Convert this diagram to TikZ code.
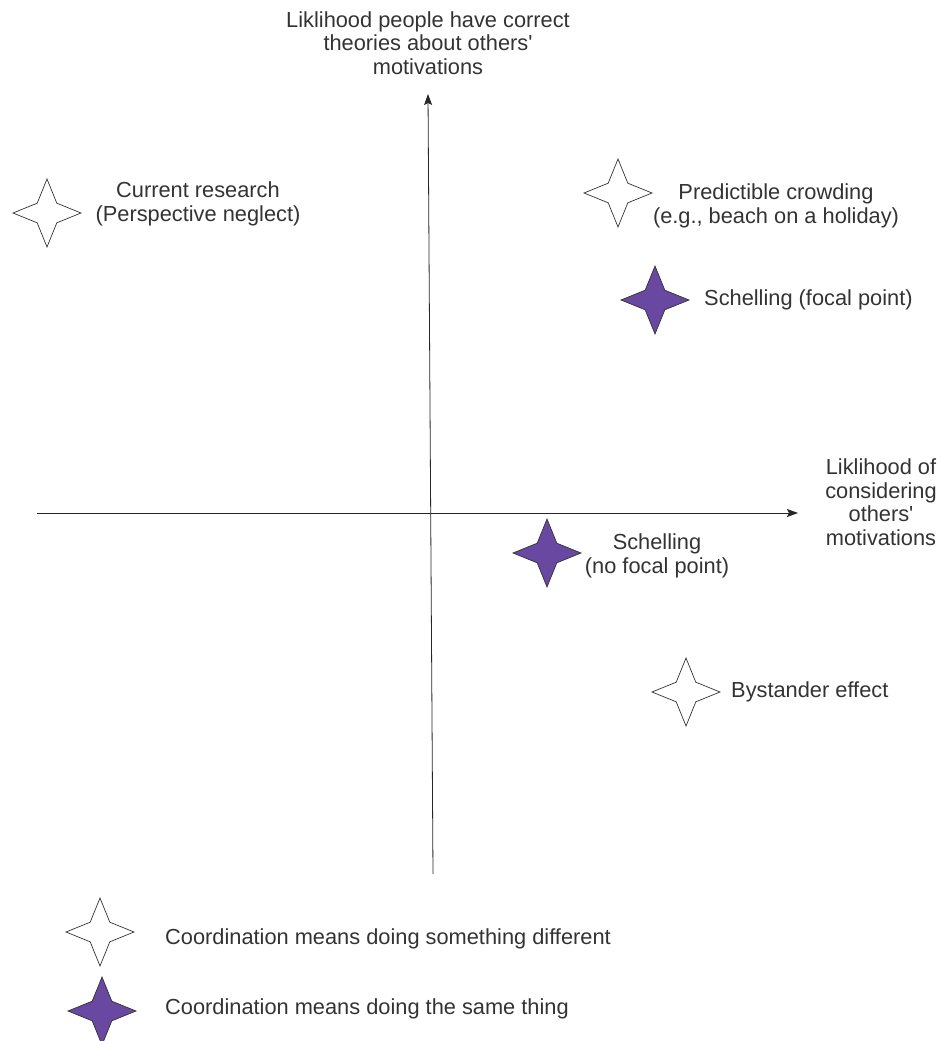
\documentclass[tikz,border=0pt]{standalone}
\usepackage{fontspec}
\setmainfont{Liberation Sans}
\usetikzlibrary{shapes.geometric,arrows.meta}

\definecolor{MYpurple}{RGB}{104,72,160}
\definecolor{MYtext}{RGB}{51,51,51}
\newcommand\MYstarsize{68pt}
\newcommand\MYfont{\fontsize{21.8}{23.5}\selectfont}
\newcommand\MYq{\textquotesingle}

\begin{document}
\begin{tikzpicture}[x=1pt,y=-1pt,
  openstar/.style={star,star points=4,star point ratio=2.45,minimum size=\MYstarsize,
    inner sep=0pt,draw=black!80,line width=0.7pt,fill=white},
  fullstar/.style={openstar,fill=MYpurple},
  lbl/.style={text=MYtext,font=\MYfont,align=center,inner sep=0pt},
  axis/.style={draw=black!85,line width=0.8pt,-{Stealth[length=11pt,width=8pt,inset=2pt]}}]

\useasboundingbox (0,0) rectangle (940,1041);

\coordinate (VB) at (433,874);
\coordinate (VT) at (428,94);
\coordinate (HL) at (37,513);
\coordinate (HR) at (798,513);

 \draw[axis] (VB) -- (VT);
 \draw[axis] (HL) -- (HR);

\node[lbl] (ytitle) at (428,43) {Liklihood people have correct\\theories about others\MYq\\motivations};
\node[lbl] (xtitle) at (881,502) {Liklihood of\\considering\\others\MYq\\motivations};

% quadrant stars
\node[openstar] (current) at (47,213) {};
\node[lbl] (currentlbl) at (198,204) {Current research\\(Perspective neglect)};

\node[openstar] (crowd) at (618,193) {};
\node[lbl] (crowdlbl) at (776,206) {Predictible crowding\\(e.g., beach on a holiday)};

\node[fullstar] (focal) at (655,300) {};
\node[lbl,anchor=west] (focallbl) at (704,300) {Schelling (focal point)};

\node[fullstar] (nofocal) at (547,553) {};
\node[lbl] (nofocallbl) at (657,556) {Schelling\\(no focal point)};

\node[openstar] (bystander) at (686,692) {};
\node[lbl,anchor=west] (bystanderlbl) at (731,692) {Bystander effect};

% legend
\node[openstar] (keydiff) at (100,932) {};
\node[lbl,anchor=base west] (keydifflbl) at (165,944) {Coordination means doing something different};

\node[fullstar] (keysame) at (102,1011) {};
\node[lbl,anchor=base west] (keysamelbl) at (165,1014) {Coordination means doing the same thing};

\end{tikzpicture}
\end{document}
